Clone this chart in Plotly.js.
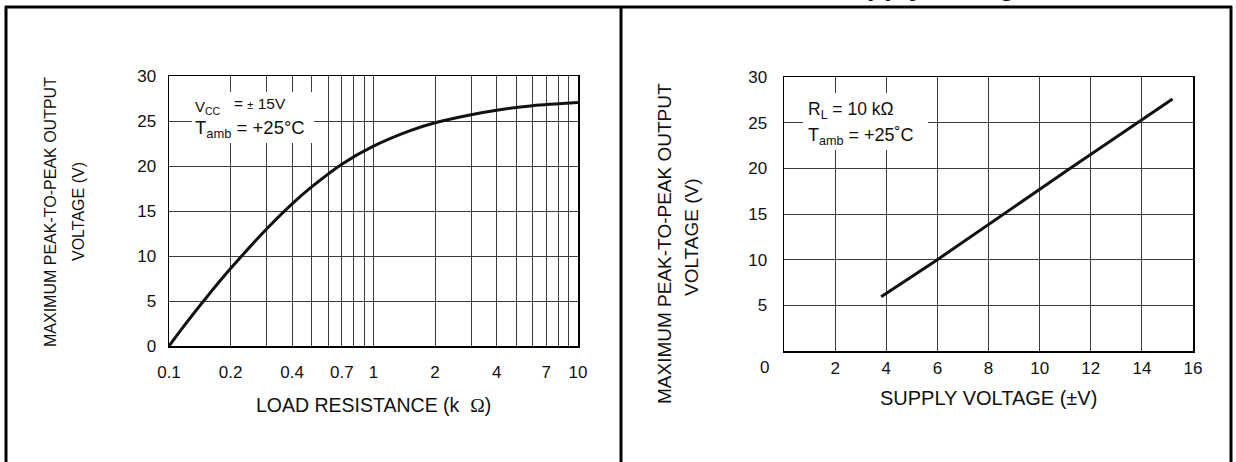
<!DOCTYPE html>
<html><head><meta charset="utf-8">
<script src="https://cdn.plot.ly/plotly-3.0.1.min.js"></script>
<style>html,body{margin:0;padding:0;background:#fff;} #chart{width:1236px;height:462px;}</style>
</head><body><div id="chart"></div>
<script>
const W = 1236, H = 462;
// ---- Left chart: max peak-to-peak output vs load resistance (kΩ) ----
const loadRes      = [0.1, 0.12, 0.15, 0.2, 0.3, 0.4, 0.5, 0.7, 1, 1.5, 2, 3, 4, 6, 10];
const swingVsLoad  = [0, 2.4, 5.2, 8.6, 13.0, 15.8, 17.7, 20.2, 22.2, 23.9, 24.8, 25.7, 26.2, 26.7, 27.05];
const loadGrid     = [0.1, 0.2, 0.3, 0.4, 0.5, 0.6, 0.7, 0.8, 0.9, 1, 2, 3, 4, 5, 6, 7, 8, 9, 10];
const loadTickVals = [0.1, 0.2, 0.4, 0.7, 1, 2, 4, 7, 10];
const loadTickText = ['0.1', '0.2', '0.4', '0.7', '1', '2', '4', '7', '10'];
// ---- Right chart: max peak-to-peak output vs supply voltage (±V) ----
const supplyV       = [3.8, 6, 11.2, 13.85, 15.2];
const swingVsSupply = [5.95, 10, 20, 25, 27.6];
const supplyGrid    = [0, 2, 4, 6, 8, 10, 12, 14, 16];
const supplyTicks   = [2, 4, 6, 8, 10, 12, 14, 16];
const supplyLabels  = ['2', '4', '6', '8', '10', '12', '14', '16'];
const voltGrid        = [0, 5, 10, 15, 20, 25, 30];
const voltTicksLeft   = [0, 5, 10, 15, 20, 25, 30];
const voltLabelsLeft  = ['0', '5', '10', '15', '20', '25', '30'];
const voltTicksRight  = [5, 10, 15, 20, 25, 30];
const voltLabelsRight = ['5', '10', '15', '20', '25', '30'];
const cornerLabel = '0';

const px = x => x / W;
const py = y => 1 - y / H;
const FONT = 'Liberation Sans, Arial, sans-serif';
const GRID = '#3c3c3c';

const traces = [
  {x: loadRes, y: swingVsLoad, xaxis: 'x', yaxis: 'y', type: 'scatter', mode: 'lines',
   line: {color: '#111', width: 3, shape: 'spline', smoothing: 0.8}, hoverinfo: 'skip'},
  {x: supplyV, y: swingVsSupply, xaxis: 'x2', yaxis: 'y2', type: 'scatter', mode: 'lines',
   line: {color: '#111', width: 3}, hoverinfo: 'skip'}
];

const axCommon = {showgrid: true, gridcolor: GRID, gridwidth: 1, showline: true, mirror: true,
  linecolor: '#000', linewidth: 1.5, ticks: '', zeroline: false, fixedrange: true,
  tickfont: {family: FONT, size: 17, color: '#111'}};
const minorGrid = vals => ({tickmode: 'array', tickvals: vals, showgrid: true, gridcolor: GRID, gridwidth: 1, ticks: ''});

const ann = (text, x, y, size, extra) => Object.assign({text, x: px(x), y: py(y), xref: 'paper', yref: 'paper',
  showarrow: false, font: {family: FONT, size, color: '#111'}, xanchor: 'left', yanchor: 'middle'}, extra || {});

const layout = {
  width: W, height: H, margin: {l: 0, r: 0, t: 0, b: 0},
  paper_bgcolor: '#fff', plot_bgcolor: '#fff', showlegend: false,
  xaxis: Object.assign({}, axCommon, {type: 'log', range: [-1, 1], domain: [px(169), px(578)], anchor: 'y',
    tickmode: 'array', tickvals: loadTickVals, ticktext: loadTickText, ticklabelstandoff: 10,
    minor: minorGrid(loadGrid)}),
  yaxis: Object.assign({}, axCommon, {range: [0, 30], domain: [py(346), py(76)], anchor: 'x',
    tickmode: 'array', tickvals: voltTicksLeft, ticktext: voltLabelsLeft, ticklabelstandoff: 8}),
  xaxis2: Object.assign({}, axCommon, {range: [0, 16], domain: [px(784), px(1193)], anchor: 'y2',
    tickmode: 'array', tickvals: supplyTicks, ticktext: supplyLabels, ticklabelstandoff: 1,
    minor: minorGrid(supplyGrid)}),
  yaxis2: Object.assign({}, axCommon, {range: [0, 30], domain: [py(351), py(77)], anchor: 'x2',
    tickmode: 'array', tickvals: voltTicksRight, ticktext: voltLabelsRight, ticklabelstandoff: 12,
    minor: minorGrid(voltGrid)}),
  shapes: [
    // frame
    {type: 'line', xref: 'paper', yref: 'paper', x0: px(5), x1: px(1232), y0: py(7), y1: py(7), line: {color: '#000', width: 3}},
    {type: 'line', xref: 'paper', yref: 'paper', x0: px(6), x1: px(6), y0: py(6), y1: py(470), line: {color: '#000', width: 3}},
    {type: 'line', xref: 'paper', yref: 'paper', x0: px(621), x1: px(621), y0: py(6), y1: py(470), line: {color: '#000', width: 3}},
    {type: 'line', xref: 'paper', yref: 'paper', x0: px(1231), x1: px(1231), y0: py(6), y1: py(470), line: {color: '#000', width: 3}},
    // white boxes behind condition notes
    {type: 'rect', xref: 'paper', yref: 'paper', layer: 'above', x0: px(192), x1: px(314), y0: py(92), y1: py(143), fillcolor: '#fff', line: {width: 0}},
    {type: 'rect', xref: 'paper', yref: 'paper', layer: 'above', x0: px(803), x1: px(928), y0: py(93), y1: py(150), fillcolor: '#fff', line: {width: 0}}
  ],
  annotations: [
    // cut-off page heading (only its lowest pixels show above the frame)
    ann('<b>Supply Voltage</b>', 829, 3.5, 28, {yanchor: 'bottom'}),
    // left notes
    ann('V<sub>CC</sub>', 193, 108, 15),
    ann('= <span style="font-size:11px">±</span> 15V', 232, 103, 15.5),
    ann('T<sub>amb</sub> = +25°C', 193, 129, 18.5),
    // right notes
    ann('R<sub>L</sub> = 10 kΩ', 806, 110, 17.5),
    ann('T<sub>amb</sub> = +25˚C', 806, 136, 18),
    // axis titles
    ann('LOAD RESISTANCE (k  <span style="font-family:Liberation Serif">Ω</span>)', 373, 405, 19.5, {xanchor: 'center'}),
    ann('SUPPLY VOLTAGE (±V)', 988, 398, 20, {xanchor: 'center'}),
    ann('MAXIMUM PEAK-TO-PEAK OUTPUT', 50, 212, 16, {xanchor: 'center', textangle: -90}),
    ann('VOLTAGE (V)', 78, 212, 16, {xanchor: 'center', textangle: -90}),
    ann('MAXIMUM PEAK-TO-PEAK OUTPUT', 664, 243, 19, {xanchor: 'center', textangle: -90}),
    ann('VOLTAGE (V)', 691, 237, 19, {xanchor: 'center', textangle: -90}),
    // corner "0" of right chart
    ann(cornerLabel, 764, 367, 17, {xanchor: 'center'})
  ]
};

Plotly.newPlot('chart', traces, layout, {staticPlot: true, displayModeBar: false});
</script>
</body></html>
